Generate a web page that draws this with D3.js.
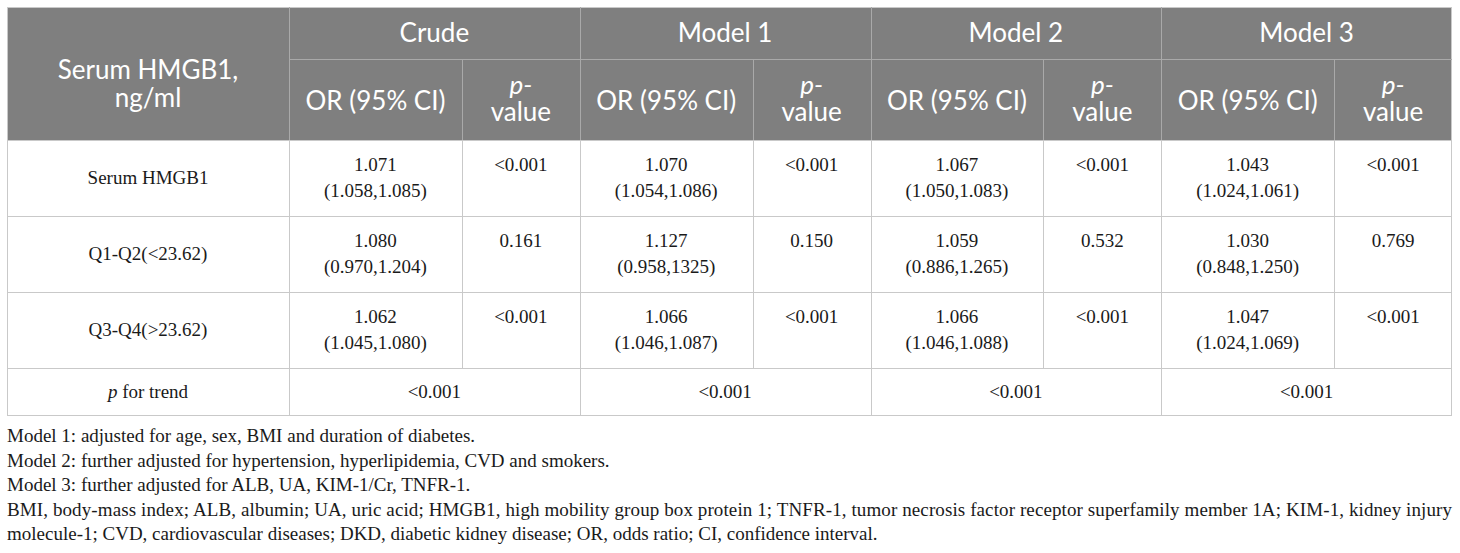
<!DOCTYPE html>
<html>
<head>
<meta charset="utf-8">
<script src="https://cdn.jsdelivr.net/npm/d3@7"></script>
<style>
  body { margin: 0; background: #fff; }
  svg { display: block; }
</style>
</head>
<body>
<div id="table"></div>
<script>
var rowLabels = ["Serum HMGB1", "Q1-Q2(<23.62)", "Q3-Q4(>23.62)"];
var models = ["Crude", "Model 1", "Model 2", "Model 3"];

var crudeOR = ["1.071", "1.080", "1.062"];
var crudeCI = ["(1.058,1.085)", "(0.970,1.204)", "(1.045,1.080)"];
var crudeP = ["<0.001", "0.161", "<0.001"];

var model1OR = ["1.070", "1.127", "1.066"];
var model1CI = ["(1.054,1.086)", "(0.958,1325)", "(1.046,1.087)"];
var model1P = ["<0.001", "0.150", "<0.001"];

var model2OR = ["1.067", "1.059", "1.066"];
var model2CI = ["(1.050,1.083)", "(0.886,1.265)", "(1.046,1.088)"];
var model2P = ["<0.001", "0.532", "<0.001"];

var model3OR = ["1.043", "1.030", "1.047"];
var model3CI = ["(1.024,1.061)", "(0.848,1.250)", "(1.024,1.069)"];
var model3P = ["<0.001", "0.769", "<0.001"];

var trendP = ["<0.001", "<0.001", "<0.001", "<0.001"];

var footnotes = [
  "Model 1: adjusted for age, sex, BMI and duration of diabetes.",
  "Model 2: further adjusted for hypertension, hyperlipidemia, CVD and smokers.",
  "Model 3: further adjusted for ALB, UA, KIM-1/Cr, TNFR-1.",
  "BMI, body-mass index; ALB, albumin; UA, uric acid; HMGB1, high mobility group box protein 1; TNFR-1, tumor necrosis factor receptor superfamily member 1A; KIM-1, kidney injury",
  "molecule-1; CVD, cardiovascular diseases; DKD, diabetic kidney disease; OR, odds ratio; CI, confidence interval."
];

var orCols = [crudeOR, model1OR, model2OR, model3OR];
var ciCols = [crudeCI, model1CI, model2CI, model3CI];
var pCols = [crudeP, model1P, model2P, model3P];

var width = 1460, height = 553;
var left = 7, right = 1452, firstColEnd = 289;
var headTop = 7, headMid = 59, headBottom = 140, bodyBottom = 368, trendBottom = 416;
var orShare = 0.595;

var headFill = "#7f7f7f", headLine = "#a9a9a9", bodyLine = "#c9c9c9";
var sans = "Lato, 'Open Sans', sans-serif";
var serif = "'Liberation Serif', 'Times New Roman', serif";

var svg = d3.select("#table").append("svg")
    .attr("width", width)
    .attr("height", height);

var x = d3.scaleBand().domain(models).range([firstColEnd, right]);
var y = d3.scaleBand().domain(rowLabels).range([headBottom, bodyBottom]);

function orCenter(m) { return x(m) + x.bandwidth() * orShare / 2; }
function pLeft(m) { return x(m) + x.bandwidth() * orShare; }
function pCenter(m) { return pLeft(m) + x.bandwidth() * (1 - orShare) / 2; }

// header background
svg.append("rect")
    .attr("x", left).attr("y", headTop)
    .attr("width", right - left).attr("height", headBottom - headTop)
    .attr("fill", headFill);

// body frame
svg.append("rect")
    .attr("x", left + 0.5).attr("y", headTop + 0.5)
    .attr("width", right - left - 1).attr("height", trendBottom - headTop - 1)
    .attr("fill", "none")
    .attr("stroke", bodyLine);

// header lines
var hl = svg.append("g").attr("stroke", headLine).attr("stroke-width", 1);
hl.append("line")
    .attr("x1", firstColEnd).attr("x2", right)
    .attr("y1", headMid + 0.5).attr("y2", headMid + 0.5);
hl.selectAll(".gsep").data(models).enter().append("line")
    .attr("x1", function (d) { return Math.round(x(d)) + 0.5; })
    .attr("x2", function (d) { return Math.round(x(d)) + 0.5; })
    .attr("y1", headTop).attr("y2", headBottom);
hl.selectAll(".psep").data(models).enter().append("line")
    .attr("x1", function (d) { return Math.round(pLeft(d)) + 0.5; })
    .attr("x2", function (d) { return Math.round(pLeft(d)) + 0.5; })
    .attr("y1", headMid).attr("y2", headBottom);

// body lines
var bl = svg.append("g").attr("stroke", bodyLine).attr("stroke-width", 1);
bl.selectAll(".hrow").data(rowLabels).enter().append("line")
    .attr("x1", left).attr("x2", right)
    .attr("y1", function (d) { return Math.round(y(d)) + 0.5; })
    .attr("y2", function (d) { return Math.round(y(d)) + 0.5; });
bl.append("line")
    .attr("x1", left).attr("x2", right)
    .attr("y1", bodyBottom + 0.5).attr("y2", bodyBottom + 0.5);
bl.append("line")
    .attr("x1", firstColEnd + 0.5).attr("x2", firstColEnd + 0.5)
    .attr("y1", headBottom).attr("y2", trendBottom);
bl.selectAll(".gsep").data(models.slice(1)).enter().append("line")
    .attr("x1", function (d) { return Math.round(x(d)) + 0.5; })
    .attr("x2", function (d) { return Math.round(x(d)) + 0.5; })
    .attr("y1", headBottom).attr("y2", trendBottom);
bl.selectAll(".psep").data(models).enter().append("line")
    .attr("x1", function (d) { return Math.round(pLeft(d)) + 0.5; })
    .attr("x2", function (d) { return Math.round(pLeft(d)) + 0.5; })
    .attr("y1", headBottom).attr("y2", bodyBottom);

// header text
var ht = svg.append("g")
    .attr("font-family", sans)
    .attr("font-size", 26)
    .attr("fill", "#fff")
    .attr("text-anchor", "middle");
var firstHead = ht.append("text").attr("y", 79);
firstHead.append("tspan").attr("x", (left + firstColEnd) / 2).text("Serum HMGB1,");
firstHead.append("tspan").attr("x", (left + firstColEnd) / 2).attr("dy", 28).text("ng/ml");
ht.selectAll(".model").data(models).enter().append("text")
    .attr("x", function (d) { return x(d) + x.bandwidth() / 2; })
    .attr("y", 42)
    .text(function (d) { return d; });
ht.selectAll(".or").data(models).enter().append("text")
    .attr("x", orCenter)
    .attr("y", 110)
    .text("OR (95% CI)");
var pHead = ht.selectAll(".p").data(models).enter().append("text")
    .attr("y", 94);
pHead.append("tspan")
    .attr("x", pCenter)
    .attr("font-style", "italic")
    .text("p-");
pHead.append("tspan")
    .attr("x", pCenter)
    .attr("dy", 27)
    .text("value");

// body text
var bt = svg.append("g")
    .attr("font-family", serif)
    .attr("font-size", 19)
    .attr("fill", "#1a1a1a")
    .attr("text-anchor", "middle");

bt.selectAll(".label").data(rowLabels).enter().append("text")
    .attr("x", (left + firstColEnd) / 2)
    .attr("y", function (d) { return y(d) + y.bandwidth() / 2 + 6; })
    .text(function (d) { return d; });

models.forEach(function (m, j) {
  rowLabels.forEach(function (r, i) {
    var c = y(r) + y.bandwidth() / 2;
    var cell = bt.append("text").attr("y", c - 7);
    cell.append("tspan").attr("x", orCenter(m)).text(orCols[j][i]);
    cell.append("tspan").attr("x", orCenter(m)).attr("dy", 26).text(ciCols[j][i]);
    bt.append("text").attr("x", pCenter(m)).attr("y", c - 7).text(pCols[j][i]);
  });
});

var trendY = (bodyBottom + trendBottom) / 2 + 6;
var tl = bt.append("text").attr("x", (left + firstColEnd) / 2).attr("y", trendY);
tl.append("tspan").attr("font-style", "italic").text("p");
tl.append("tspan").text(" for trend");
bt.selectAll(".trend").data(models).enter().append("text")
    .attr("x", function (d) { return x(d) + x.bandwidth() / 2; })
    .attr("y", trendY)
    .text(function (d, i) { return trendP[i]; });

// footnotes
svg.append("g")
    .attr("font-family", serif)
    .attr("font-size", 19)
    .attr("fill", "#1a1a1a")
    .selectAll("text").data(footnotes).enter().append("text")
    .attr("x", left)
    .attr("y", function (d, i) { return 442 + i * 24.6; })
    .attr("textLength", function (d, i) { return i === 3 ? right - left : null; })
    .attr("lengthAdjust", "spacing")
    .text(function (d) { return d; });
</script>
</body>
</html>
